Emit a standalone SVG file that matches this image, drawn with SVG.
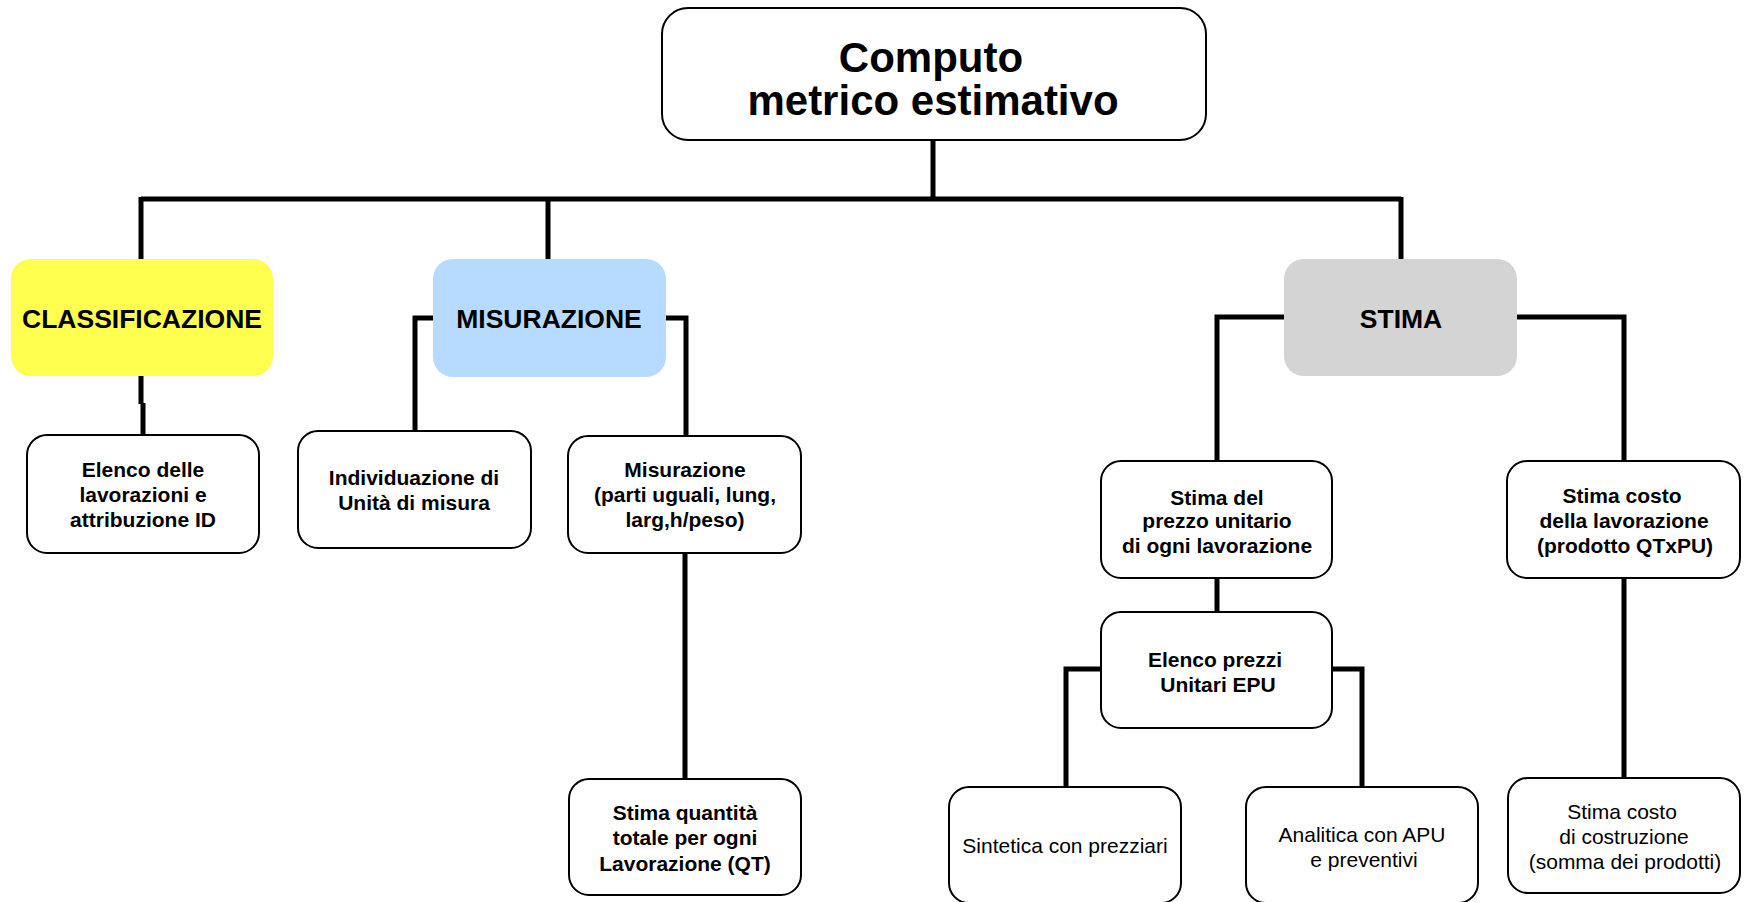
<svg xmlns="http://www.w3.org/2000/svg" width="1744" height="902" viewBox="0 0 1744 902">
<style>
.bx{fill:#fff;stroke:#000;stroke-width:2}
.cl{fill:none;stroke:#000;stroke-width:5;stroke-linejoin:miter;stroke-linecap:butt}
text{font-family:"Liberation Sans",Arial,sans-serif;fill:#000;text-anchor:middle}
.b{font-weight:bold;font-size:21px}
.r{font-size:21px}
.h{font-weight:bold;font-size:26.5px}
.t{font-weight:bold;font-size:42px}
</style>
<rect width="1744" height="902" fill="#fff"/>
<g id="connectors">
<path class="cl" d="M933 140V199"/>
<path class="cl" d="M141 199H1401"/>
<path class="cl" d="M141 197V259"/>
<path class="cl" d="M548 197V259"/>
<path class="cl" d="M1401 197V259"/>
<path class="cl" d="M141 376V404M143 403V436"/>
<path class="cl" d="M433 318H415V431"/>
<path class="cl" d="M666 318H686V437"/>
<path class="cl" d="M685 553V779"/>
<path class="cl" d="M1284 317H1217V461"/>
<path class="cl" d="M1517 317H1624V461"/>
<path class="cl" d="M1217 577V612"/>
<path class="cl" d="M1101 669H1066V787"/>
<path class="cl" d="M1332 669H1362V787"/>
<path class="cl" d="M1624 577V779"/>
</g>
<g id="n-root">
<rect class="bx" x="662" y="8" width="544" height="132" rx="26"/>
<text class="t" x="931" y="72">Computo</text>
<text class="t" x="933" y="115">metrico estimativo</text>
</g>
<g id="n-class">
<rect x="11" y="259" width="262" height="117" rx="20" fill="#FFFF50"/>
<text class="h" x="142" y="328">CLASSIFICAZIONE</text>
</g>
<g id="n-mis">
<rect x="433" y="259" width="233" height="118" rx="20" fill="#B7DBFE"/>
<text class="h" x="549" y="328">MISURAZIONE</text>
</g>
<g id="n-stima">
<rect x="1284" y="259" width="233" height="117" rx="20" fill="#D4D4D4"/>
<text class="h" x="1401" y="328">STIMA</text>
</g>
<g id="n-elenco">
<rect class="bx" x="27" y="435" width="232" height="118" rx="20"/>
<text class="b" x="143" y="477">Elenco delle</text>
<text class="b" x="143" y="502">lavorazioni e</text>
<text class="b" x="143" y="527">attribuzione ID</text>
</g>
<g id="n-indiv">
<rect class="bx" x="298" y="431" width="233" height="117" rx="20"/>
<text class="b" x="414" y="485">Individuazione di</text>
<text class="b" x="414" y="510">Unità di misura</text>
</g>
<g id="n-misur">
<rect class="bx" x="568" y="436" width="233" height="117" rx="20"/>
<text class="b" x="685" y="477">Misurazione</text>
<text class="b" x="685" y="502">(parti uguali, lung,</text>
<text class="b" x="685" y="527">larg,h/peso)</text>
</g>
<g id="n-qt">
<rect class="bx" x="569" y="779" width="232" height="116" rx="20"/>
<text class="b" x="685" y="820">Stima quantità</text>
<text class="b" x="685" y="845">totale per ogni</text>
<text class="b" x="685" y="871">Lavorazione (QT)</text>
</g>
<g id="n-pu">
<rect class="bx" x="1101" y="461" width="231" height="117" rx="20"/>
<text class="b" x="1217" y="505">Stima del</text>
<text class="b" x="1217" y="528">prezzo unitario</text>
<text class="b" x="1217" y="553">di ogni lavorazione</text>
</g>
<g id="n-epu">
<rect class="bx" x="1101" y="612" width="231" height="116" rx="20"/>
<text class="b" x="1215" y="667">Elenco prezzi</text>
<text class="b" x="1218" y="692">Unitari EPU</text>
</g>
<g id="n-sint">
<rect class="bx" x="949" y="787" width="232" height="116" rx="20"/>
<text class="r" x="1065" y="853">Sintetica con prezziari</text>
</g>
<g id="n-anal">
<rect class="bx" x="1246" y="787" width="232" height="116" rx="20"/>
<text class="r" x="1362" y="842">Analitica con APU</text>
<text class="r" x="1364" y="867">e preventivi</text>
</g>
<g id="n-costo">
<rect class="bx" x="1507" y="461" width="233" height="117" rx="20"/>
<text class="b" x="1622" y="503">Stima costo</text>
<text class="b" x="1624" y="528">della lavorazione</text>
<text class="b" x="1625" y="553">(prodotto QTxPU)</text>
</g>
<g id="n-tot">
<rect class="bx" x="1508" y="778" width="232" height="115" rx="20"/>
<text class="r" x="1622" y="819">Stima costo</text>
<text class="r" x="1624" y="844">di costruzione</text>
<text class="r" x="1625" y="869">(somma dei prodotti)</text>
</g>
</svg>
